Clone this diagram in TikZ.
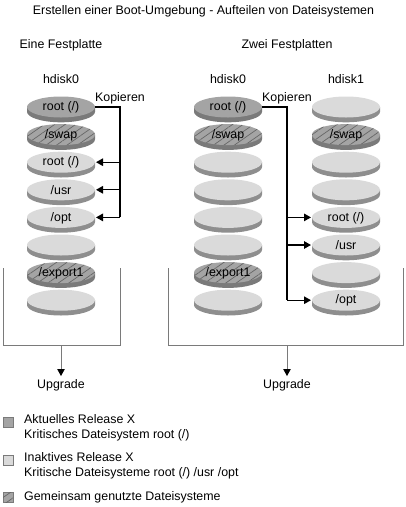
\documentclass[tikz,border=0pt]{standalone}
\usepackage{fontspec}
\setmainfont{Liberation Sans}
\usetikzlibrary{arrows.meta,patterns.meta,positioning}
\definecolor{diskdark}{HTML}{A4A4A4}
\definecolor{disklight}{HTML}{DADADA}
\definecolor{rimdark}{HTML}{7A7A7A}
\definecolor{rimlight}{HTML}{8E8E8E}
\definecolor{hatchline}{HTML}{666666}
\definecolor{boxgray}{HTML}{7A7A7A}
\tikzset{
	lbl/.style={font=\fontsize{12.4}{15}\selectfont, inner sep=0pt},
	darktop/.style={fill=diskdark},
	darkrim/.style={fill=rimdark},
	lighttop/.style={fill=disklight},
	lightrim/.style={fill=rimlight},
	hatchtop/.style={fill=diskdark, postaction={pattern={Lines[angle=35, distance=6pt, line width=0.7pt]}, pattern color=hatchline}},
	hatchrim/.style={fill=rimdark},
	copyline/.style={line width=1.3pt, black},
	copyarrow/.style={line width=1.3pt, black, -{Triangle[length=7pt, width=7.5pt]}, shorten >=1pt},
	boxline/.style={line width=0.8pt, boxgray},
	downarrow/.style={boxline, -{Triangle[length=7pt, width=7.5pt, fill=black, color=black]}, shorten >=3pt},
	legbox/.style={minimum size=10pt, inner sep=0pt, draw=rimdark, line width=0.6pt},
	pics/disk/.style n args={2}{code={
		\fill[#1rim] (-34, 0) -- (-34, 4.8)
			arc[start angle=180, end angle=0, x radius=34, y radius=10.5] -- (34, 0) -- cycle;
		\path[#1top] (0, 0) ellipse[x radius=34, y radius=10.5];
		\node[lbl] (-c) at (0, 0.5) {#2};
		\coordinate (-e) at (34, 0);
		\coordinate (-w) at (-34, 0);
	}},
}
\begin{document}
\begin{tikzpicture}[x=1pt, y=-1pt]
	\useasboundingbox (0, 0) rectangle (406, 507);
	% Titles.
	\node[lbl] (title) at (203.5, 11) {Erstellen einer Boot-Umgebung - Aufteilen von Dateisystemen};
	\node[lbl] (einsT) at (61, 45) {Eine Festplatte};
	\node[lbl] (zweiT) at (287, 45) {Zwei Festplatten};
	\node[lbl] (hdA) at (61, 79) {hdisk0};
	\node[lbl] (hdB) at (228, 79) {hdisk0};
	\node[lbl] (hdC) at (346, 79) {hdisk1};
	% One disk.
	\pic (a1) at (61, 107.0) {disk={dark}{root (/)}};
	\pic (a2) at (61, 134.6) {disk={hatch}{/swap}};
	\pic (a3) at (61, 162.2) {disk={light}{root (/)}};
	\pic (a4) at (61, 189.8) {disk={light}{/usr}};
	\pic (a5) at (61, 217.4) {disk={light}{/opt}};
	\pic (a6) at (61, 245.0) {disk={light}{}};
	\pic (a7) at (61, 272.6) {disk={hatch}{/export1}};
	\pic (a8) at (61, 300.2) {disk={light}{}};
	% Two disks, hdisk0.
	\pic (b1) at (228, 107.0) {disk={dark}{root (/)}};
	\pic (b2) at (228, 134.6) {disk={hatch}{/swap}};
	\pic (b3) at (228, 162.2) {disk={light}{}};
	\pic (b4) at (228, 189.8) {disk={light}{}};
	\pic (b5) at (228, 217.4) {disk={light}{}};
	\pic (b6) at (228, 245.0) {disk={light}{}};
	\pic (b7) at (228, 272.6) {disk={hatch}{/export1}};
	\pic (b8) at (228, 300.2) {disk={light}{}};
	% Two disks, hdisk1.
	\pic (c1) at (346, 107.0) {disk={light}{}};
	\pic (c2) at (346, 134.6) {disk={hatch}{/swap}};
	\pic (c3) at (346, 162.2) {disk={light}{}};
	\pic (c4) at (346, 189.8) {disk={light}{}};
	\pic (c5) at (346, 217.4) {disk={light}{root (/)}};
	\pic (c6) at (346, 245.0) {disk={light}{/usr}};
	\pic (c7) at (346, 272.6) {disk={light}{}};
	\pic (c8) at (346, 300.2) {disk={light}{/opt}};
	% Copy on one disk.
	\coordinate (ltrunk) at (120, 0);
	\coordinate (lcorner) at (ltrunk |- a1-e);
	\node[lbl, above=2.5pt of lcorner] (kopA) {Kopieren};
	\draw[copyline] (a1-e) -- (lcorner) -- (ltrunk |- a5-e);
	\draw[copyarrow] (ltrunk |- a3-e) -- (a3-e);
	\draw[copyarrow] (ltrunk |- a4-e) -- (a4-e);
	\draw[copyarrow] (ltrunk |- a5-e) -- (a5-e);
	% Copy to the second disk.
	\coordinate (rtrunk) at (287, 0);
	\coordinate (rcorner) at (rtrunk |- b1-e);
	\node[lbl, above=2.5pt of rcorner] (kopB) {Kopieren};
	\draw[copyline] (b1-e) -- (rcorner) -- (rtrunk |- c8-w);
	\draw[copyarrow] (rtrunk |- c5-w) -- (c5-w);
	\draw[copyarrow] (rtrunk |- c6-w) -- (c6-w);
	\draw[copyarrow] (rtrunk |- c8-w) -- (c8-w);
	% Boxes and upgrade.
	\draw[boxline] (3, 268) |- (120, 345) -- (120, 268);
	\draw[boxline] (168, 268) |- (403, 345) -- (403, 268);
	\coordinate (boxA) at (61, 345);
	\coordinate (boxB) at (287, 345);
	\node[lbl] (upA) at (61, 385) {Upgrade};
	\node[lbl] (upB) at (287, 385) {Upgrade};
	\draw[downarrow] (boxA) -- (upA);
	\draw[downarrow] (boxB) -- (upB);
	% Legend.
	\node[legbox, fill=diskdark] (sqA) at (8, 422) {};
	\node[legbox, fill=disklight] (sqB) at (8, 460) {};
	\node[legbox, hatchtop] (sqC) at (8, 497) {};
	\node[lbl, align=left, anchor=north west] (legA) at (24, 414) {Aktuelles Release X\\Kritisches Dateisystem root (/)};
	\node[lbl, align=left, anchor=north west] (legB) at (24, 452) {Inaktives Release X\\Kritische Dateisysteme root (/) /usr /opt};
	\node[lbl, anchor=west] (legC) at (24, 497) {Gemeinsam genutzte Dateisysteme};
\end{tikzpicture}
\end{document}
